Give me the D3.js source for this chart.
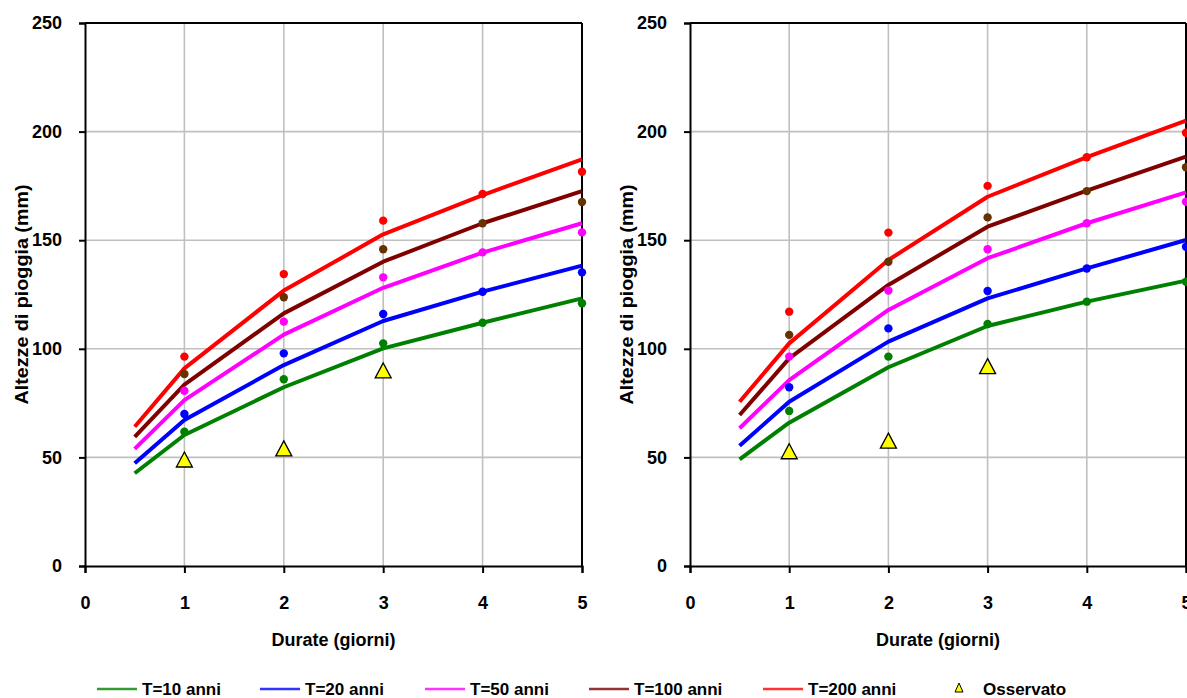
<!DOCTYPE html>
<html>
<head>
<meta charset="utf-8">
<script src="https://cdn.jsdelivr.net/npm/d3@7"></script>
<style>
  html, body { margin: 0; padding: 0; background: #ffffff; }
  svg { display: block; }
  text { font-family: "Liberation Sans", Arial, sans-serif; font-weight: bold; fill: #000; }
</style>
</head>
<body>
<svg id="chart" width="1187" height="698"></svg>
<script>
// ---------- DATA ----------
const curveDurations = [0.5, 1, 2, 3, 4, 5];
const pointDurations = [1, 2, 3, 4, 5];
const obsDurations = [1, 2, 3];

const xTicks = [0, 1, 2, 3, 4, 5];
const yTicks = [0, 50, 100, 150, 200, 250];

const seriesNames = ["T=10 anni", "T=20 anni", "T=50 anni", "T=100 anni", "T=200 anni"];
const obsName = "Osservato";
const xTitle = "Durate (giorni)";
const yTitle = "Altezze di pioggia (mm)";

// Left panel: fitted curves
const leftCurveT10  = [42.7, 60.3, 82.3, 100.2, 112.0, 123.2];
const leftCurveT20  = [47.3, 67.2, 92.5, 112.8, 126.3, 138.3];
const leftCurveT50  = [53.9, 76.4, 106.5, 128.1, 144.3, 157.8];
const leftCurveT100 = [59.5, 83.5, 116.3, 140.1, 157.8, 172.6];
const leftCurveT200 = [64.1, 91.0, 126.8, 152.7, 170.8, 187.2];
// Left panel: points
const leftPtsT10  = [61.8, 86.0, 102.5, 112.0, 121.0];
const leftPtsT20  = [70.0, 97.9, 116.0, 126.3, 135.2];
const leftPtsT50  = [80.7, 112.5, 132.9, 144.4, 153.6];
const leftPtsT100 = [88.4, 123.7, 145.8, 157.8, 167.6];
const leftPtsT200 = [96.4, 134.4, 159.0, 171.3, 181.5];
const leftObserved = [48.8, 53.9, 89.8];

// Right panel: fitted curves
const rightCurveT10  = [49.1, 66.0, 91.5, 110.5, 121.7, 131.4];
const rightCurveT20  = [55.4, 75.6, 103.3, 123.2, 137.0, 150.1];
const rightCurveT50  = [63.4, 85.6, 117.9, 141.7, 157.8, 172.0];
const rightCurveT100 = [69.5, 95.6, 129.4, 156.2, 172.8, 188.5];
const rightCurveT200 = [75.6, 102.5, 140.9, 170.0, 188.2, 205.0];
// Right panel: points
const rightPtsT10  = [71.4, 96.4, 111.4, 121.7, 130.9];
const rightPtsT20  = [82.3, 109.4, 126.6, 137.0, 147.0];
const rightPtsT50  = [96.4, 126.8, 145.8, 157.8, 167.7];
const rightPtsT100 = [106.4, 140.1, 160.5, 172.6, 183.6];
const rightPtsT200 = [117.1, 153.5, 175.0, 188.2, 199.5];
const rightObserved = [52.6, 57.5, 91.8];

// ---------- STYLE ----------
const lineColors  = ["#008000", "#0000ff", "#ff00ff", "#800000", "#ff0000"];
const pointColors = ["#008000", "#0000ff", "#ff00ff", "#663300", "#ff0000"];

const svg = d3.select("#chart");
svg.append("rect").attr("width", 1187).attr("height", 698).attr("fill", "#fff");

function drawPanel(cfg) {
  const x = d3.scaleLinear().domain([0, 5]).range([cfg.x0, cfg.x1]);
  const y = d3.scaleLinear().domain([0, 250]).range([566, 23]);
  const g = svg.append("g");

  // gridlines
  g.selectAll(".hg").data(yTicks.filter(v => v > 0 && v < 250)).enter().append("line")
    .attr("x1", x(0)).attr("x2", x(5)).attr("y1", d => y(d)).attr("y2", d => y(d))
    .attr("stroke", "#c0c0c0").attr("stroke-width", 1.6);
  g.selectAll(".vg").data(xTicks.filter(v => v > 0 && v < 5)).enter().append("line")
    .attr("y1", y(0)).attr("y2", y(250)).attr("x1", d => x(d)).attr("x2", d => x(d))
    .attr("stroke", "#c0c0c0").attr("stroke-width", 1.6);

  // frame top & right
  g.append("line").attr("x1", x(0)).attr("x2", x(5)).attr("y1", y(250)).attr("y2", y(250))
    .attr("stroke", "#000").attr("stroke-width", 2);
  g.append("line").attr("x1", x(5)).attr("x2", x(5)).attr("y1", y(250)).attr("y2", y(0))
    .attr("stroke", "#000").attr("stroke-width", 2);

  // axes
  const ax = g.append("g").attr("transform", `translate(0,${y(0)})`)
    .call(d3.axisBottom(x).tickValues(xTicks).tickFormat(d3.format("d")).tickSize(7).tickPadding(23));
  const ay = g.append("g").attr("transform", `translate(${x(0)},0)`)
    .call(d3.axisLeft(y).tickValues(yTicks).tickFormat(d3.format("d")).tickSize(6).tickPadding(17));
  [ax, ay].forEach(a => {
    a.select(".domain").attr("stroke", "#000").attr("stroke-width", 2);
    a.selectAll(".tick line").attr("stroke", "#000").attr("stroke-width", 2);
    a.selectAll(".tick text").attr("font-size", 18).attr("font-weight", "bold")
      .attr("font-family", "Liberation Sans, Arial, sans-serif").attr("fill", "#000");
  });

  // titles
  g.append("text").attr("x", (cfg.x0 + cfg.x1) / 2).attr("y", 646)
    .attr("text-anchor", "middle").attr("font-size", 18).text(xTitle);
  g.append("text").attr("transform", `translate(${cfg.x0 - 57},${(y(0) + y(250)) / 2}) rotate(-90)`)
    .attr("text-anchor", "middle").attr("font-size", 18)
    .attr("textLength", 220).attr("lengthAdjust", "spacingAndGlyphs").text(yTitle);

  // curves
  const line = d3.line().x(d => x(d[0])).y(d => y(d[1]));
  cfg.curves.forEach((vals, i) => {
    g.append("path").datum(curveDurations.map((t, k) => [t, vals[k]]))
      .attr("d", line).attr("fill", "none").attr("stroke", lineColors[i])
      .attr("stroke-width", 4).attr("stroke-linejoin", "round").attr("stroke-linecap", "butt");
  });
  // points
  cfg.points.forEach((vals, i) => {
    g.selectAll(null).data(pointDurations.map((t, k) => [t, vals[k]])).enter().append("circle")
      .attr("cx", d => x(d[0])).attr("cy", d => y(d[1])).attr("r", 4.2)
      .attr("fill", pointColors[i]);
  });
  // observed triangles
  const tri = "M0,-8L8,7L-8,7Z";
  g.selectAll(null).data(obsDurations.map((t, k) => [t, cfg.observed[k]])).enter().append("path")
    .attr("d", tri).attr("transform", d => `translate(${x(d[0])},${y(d[1])})`)
    .attr("fill", "#ffff00").attr("stroke", "#000").attr("stroke-width", 1.3);
}

drawPanel({
  x0: 85, x1: 582,
  curves: [leftCurveT10, leftCurveT20, leftCurveT50, leftCurveT100, leftCurveT200],
  points: [leftPtsT10, leftPtsT20, leftPtsT50, leftPtsT100, leftPtsT200],
  observed: leftObserved
});
drawPanel({
  x0: 690, x1: 1186,
  curves: [rightCurveT10, rightCurveT20, rightCurveT50, rightCurveT100, rightCurveT200],
  points: [rightPtsT10, rightPtsT20, rightPtsT50, rightPtsT100, rightPtsT200],
  observed: rightObserved
});

// ---------- LEGEND ----------
const legendLineX = [97, 260, 425, 589, 763];
const leg = svg.append("g");
seriesNames.forEach((name, i) => {
  leg.append("line").attr("x1", legendLineX[i]).attr("x2", legendLineX[i] + 40)
    .attr("y1", 689).attr("y2", 689).attr("stroke", lineColors[i]).attr("stroke-width", 2.5)
    .attr("stroke-opacity", 0.8);
  leg.append("text").attr("x", legendLineX[i] + 45).attr("y", 695).attr("font-size", 17)
    .text(name);
});
leg.append("path").attr("d", "M0,-5L4,4L-4,4Z").attr("transform", "translate(959,688)")
  .attr("fill", "#ffff00").attr("stroke", "#000").attr("stroke-width", 1);
leg.append("text").attr("x", 983).attr("y", 695).attr("font-size", 17).text(obsName);
</script>
</body>
</html>
